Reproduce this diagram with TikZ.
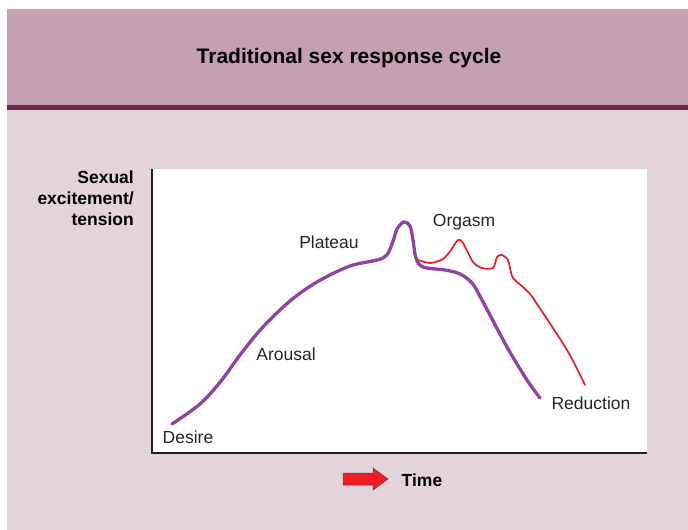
\documentclass[tikz,border=0pt]{standalone}
\usepackage{fontspec}
\setmainfont{Liberation Sans}
\definecolor{bgpink}{HTML}{E3D3DB}
\definecolor{hdrpink}{HTML}{C4A0B0}
\definecolor{hdrline}{HTML}{6B2A4A}
\definecolor{curvepurple}{HTML}{8E44A0}
\definecolor{curvered}{HTML}{EE1C25}
\definecolor{axisgray}{HTML}{231F20}
\tikzset{
  lbl/.style={inner sep=0pt, font=\fontsize{17.5}{20}\selectfont, text=black!85},
  boldlbl/.style={inner sep=0pt, font=\bfseries\fontsize{17.5}{21}\selectfont, text=black},
  purplecurve/.style={draw=curvepurple, line width=3.3pt, line cap=round, line join=round},
  redcurve/.style={draw=curvered, line width=1.7pt, line cap=round, line join=round},
}
\begin{document}
\begin{tikzpicture}[x=1pt,y=-1pt]
\useasboundingbox (0,0) rectangle (688,530);
% backgrounds
\fill[bgpink] (7,9) rectangle (688,530);
\fill[hdrpink] (7,9) rectangle (688,105);
\fill[hdrline] (7,105) rectangle (688,110);
\node[boldlbl, font=\bfseries\fontsize{21}{24}\selectfont] (title) at (349,58) {Traditional sex response cycle};
% plot area
\fill[white] (152,169) rectangle (647,453);
\coordinate (ytop) at (152,169);
\coordinate (orig) at (152,453);
\coordinate (xend) at (647,453);
\draw[axisgray, line width=2.4pt] (ytop) -- (orig) -- (xend);
% y label
\node[boldlbl, align=right, anchor=east] (ylab) at (134,198) {Sexual\\excitement/\\tension};
% curves
\draw[purplecurve] plot[smooth, tension=0.55] coordinates {(172,424) (200,404) (221,381) (240,355) (262,328) (290,301) (317,282) (350,266) (383,258) (392,244) (397,229) (404,222) (410,226) (413,240) (416,258) (423,267) (445,270) (460,274) (472,283) (482,300) (507,347) (527,380) (540,398)};
\draw[redcurve] plot[smooth, tension=0.5] coordinates {(418,260) (430,263) (443,259) (451,250) (458,240) (463,243) (473,262) (482,268) (493,268) (497,257) (502,255) (508,260) (510,268) (513,278) (523,287) (530,294) (537,304) (567,350) (585,385)};
% labels
\node[lbl] (desire) at (188,437) {Desire};
\node[lbl] (arousal) at (286,354) {Arousal};
\node[lbl] (plateau) at (329,242) {Plateau};
\node[lbl] (orgasm) at (464,222) {Orgasm};
\node[lbl] (reduction) at (591,403) {Reduction};
% time arrow
\filldraw[fill=curvered, draw=black!70, line width=0.5pt] (343,473) -- (373,473) -- (373,468) -- (388,479) -- (373,490) -- (373,485) -- (343,485) -- cycle;
\node[boldlbl] (time) at (422,480) {Time};
\end{tikzpicture}
\end{document}
